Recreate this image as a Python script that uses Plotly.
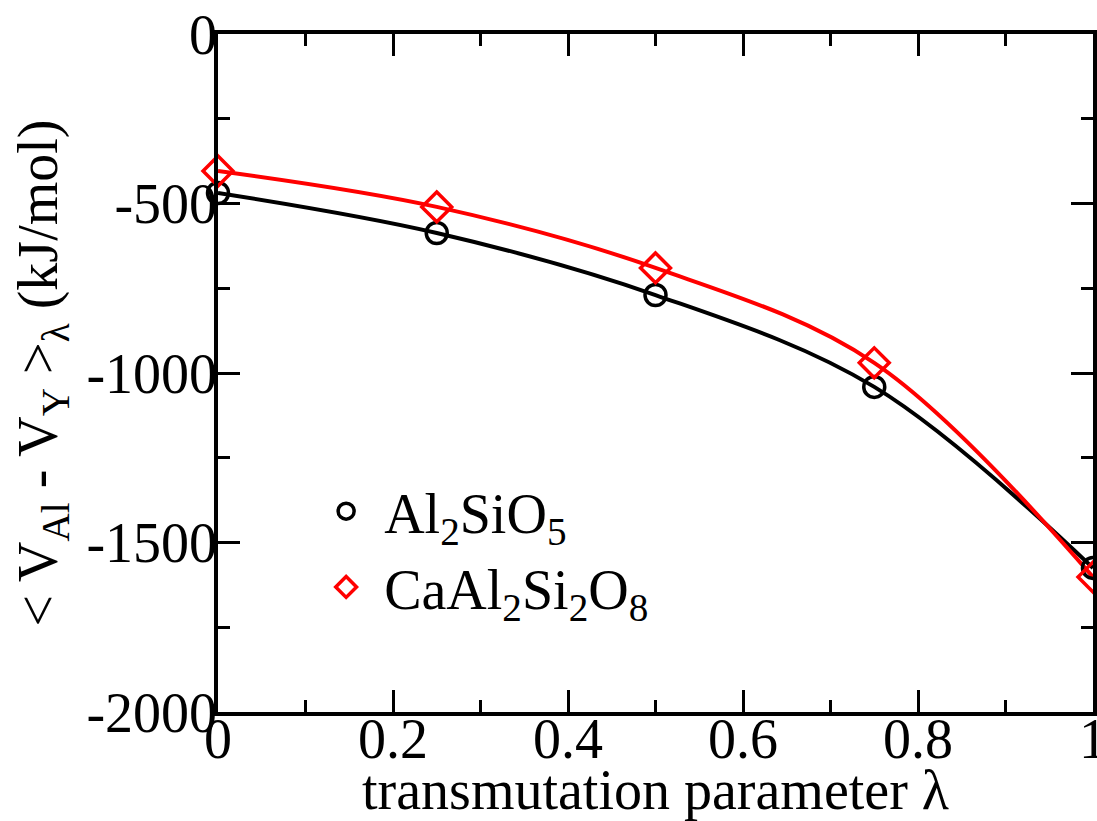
import plotly.graph_objects as go

lam = [0.0, 0.25, 0.5, 0.75, 1.0]
al2sio5 = [-469, -587, -770, -1041, -1575]
caal2si2o8 = [-404, -510, -690, -970, -1602]

x_tickvals = [0, 0.2, 0.4, 0.6, 0.8, 1.0]
x_ticktext = ["0", "0.2", "0.4", "0.6", "0.8", "1"]
y_tickvals = [0, -500, -1000, -1500, -2000]
y_ticktext = ["0", "-500", "-1000", "-1500", "-2000"]

FONT = "Liberation Serif, Times New Roman, serif"
FS = 56

fig = go.Figure()
# smooth curves
fig.add_trace(go.Scatter(x=lam, y=al2sio5, mode="lines", line=dict(color="black", width=4, shape="spline"),
                         showlegend=False, cliponaxis=False, hoverinfo="skip"))
fig.add_trace(go.Scatter(x=lam, y=caal2si2o8, mode="lines", line=dict(color="red", width=4, shape="spline"),
                         showlegend=False, cliponaxis=False, hoverinfo="skip"))
# markers
fig.add_trace(go.Scatter(x=lam, y=al2sio5, mode="markers", name="Al<sub>2</sub>SiO<sub>5</sub>",
                         marker=dict(symbol="circle-open", size=21, color="black", line=dict(width=3.5, color="black")),
                         cliponaxis=False))
fig.add_trace(go.Scatter(x=lam, y=caal2si2o8, mode="markers", name="CaAl<sub>2</sub>Si<sub>2</sub>O<sub>8</sub>",
                         marker=dict(symbol="diamond-open", size=23, color="red", line=dict(width=3.5, color="red")),
                         cliponaxis=False))

axis_common = dict(
    showline=True, linecolor="black", linewidth=3.5, mirror="ticks",
    ticks="inside", ticklen=22, tickwidth=3, tickcolor="black",
    showgrid=False, zeroline=False, ticklabeloverflow="allow",
    tickfont=dict(family=FONT, size=FS, color="black"),
)

fig.update_xaxes(range=[0, 1], tickmode="array", tickvals=x_tickvals, ticktext=x_ticktext,
                 minor=dict(ticks="inside", ticklen=12, tickwidth=3, dtick=0.1, tick0=0, tickcolor="black"),
                 title=dict(text="transmutation parameter λ", font=dict(family=FONT, size=FS, color="black"), standoff=24),
                 ticklabelstandoff=-25,
                 **axis_common)
fig.update_yaxes(range=[-2000, 0], tickmode="array", tickvals=y_tickvals, ticktext=y_ticktext,
                 minor=dict(ticks="inside", ticklen=12, tickwidth=3, dtick=250, tick0=0, tickcolor="black"),
                 title=dict(text="< V<sub>Al</sub> - V<sub>Y</sub> ><sub>λ</sub> (kJ/mol)",
                            font=dict(family=FONT, size=FS, color="black"), standoff=12),
                 ticklabelstandoff=-14,
                 **axis_common)

fig.update_layout(
    width=1097, height=821,
    margin=dict(l=218, r=4, t=34, b=109, autoexpand=False),
    plot_bgcolor="white", paper_bgcolor="white",
    font=dict(family=FONT, size=FS, color="black"),
    legend=dict(x=0.103, y=0.24, xanchor="left", yanchor="middle",
                bgcolor="rgba(0,0,0,0)", font=dict(family=FONT, size=FS, color="black"),
                itemwidth=66, tracegroupgap=0),
)

fig.write_html("out.html")
